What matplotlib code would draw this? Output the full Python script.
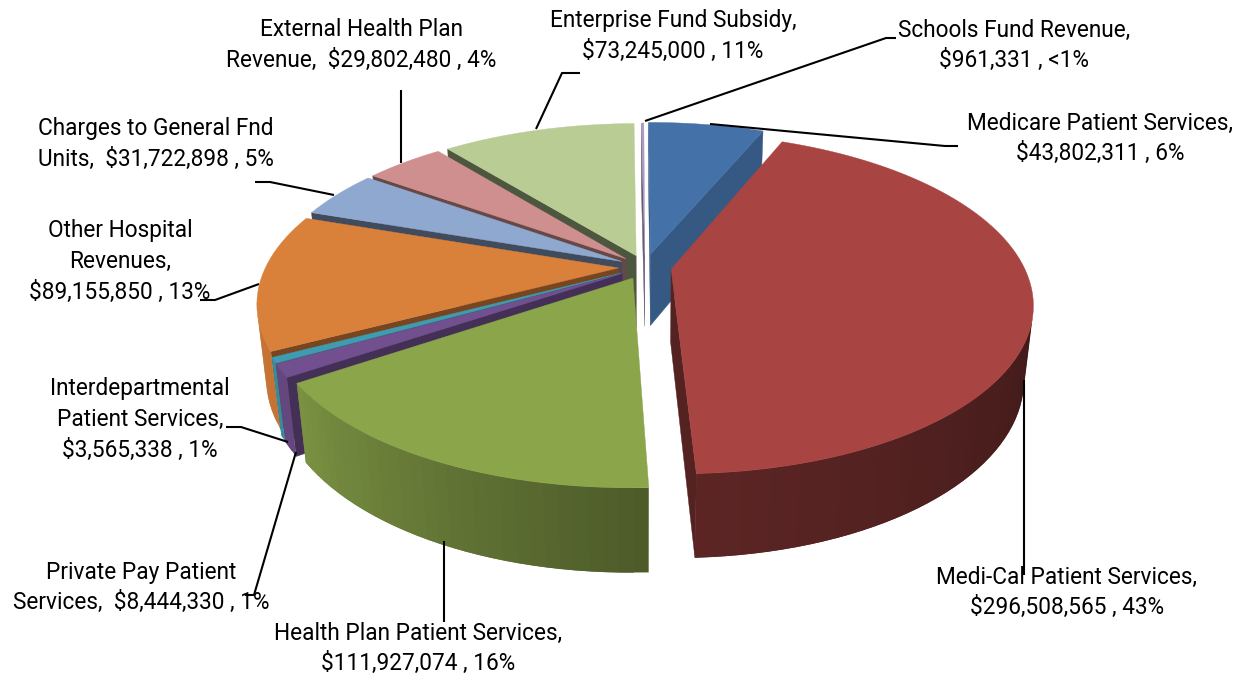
import numpy as np
import matplotlib
matplotlib.use("Agg")
import matplotlib.pyplot as plt

# Revenue sources, clockwise from twelve o'clock
categories = ["Schools Fund Revenue", "Medicare Patient Services", "Medi-Cal Patient Services",
              "Health Plan Patient Services", "Private Pay Patient Services",
              "Interdepartmental Patient Services", "Other Hospital Revenues",
              "Charges to General Fnd Units", "External Health Plan Revenue",
              "Enterprise Fund Subsidy"]
values = [961331, 43802311, 296508565, 111927074, 8444330,
          3565338, 89155850, 31722898, 29802480, 73245000]
percents = ["<1%", "6%", "43%", "16%", "1%", "1%", "13%", "5%", "4%", "11%"]
colors = ["#A99CC0", "#4472A8", "#A84442", "#8BA54B", "#72508F",
          "#3F9BB0", "#D9803A", "#8FA8D0", "#CF8F8E", "#B8CC94"]
cut_shade = [0.6, 0.78, 0.5, 0.5, 0.6, 0.6, 0.55, 0.45, 0.5, 0.42]
explode = [0.075, 0.082, 0.075, 0.075, 0.075, 0.075, 0.075, 0.075, 0.075, 0.075]

# Text lines of each label; "{}" is filled with "$value , percent"
label_lines = [
    ["Schools Fund Revenue,", "{}"],
    ["Medicare Patient Services,", "{}"],
    ["Medi-Cal Patient Services,", "{}"],
    ["Health Plan Patient Services,", "{}"],
    ["Private Pay Patient", "Services,  {}"],
    ["Interdepartmental", "Patient Services,", "{}"],
    ["Other Hospital", "Revenues,", "{}"],
    ["Charges to General Fnd", "Units,  {}"],
    ["External Health Plan", "Revenue,  {}"],
    ["Enterprise Fund Subsidy,", "{}"],
]
label_centers = [(1014, 30), (1100, 123), (1067, 577), (418, 633), (141, 572),
                 (140, 389), (120, 231), (156, 129), (361, 30), (673, 21)]
LINE_PITCH = 30.5
FONT = "Roboto"
FONT_SIZE = 16.3

leaders = [
    [(645, 121), (886, 38), (896, 38)],
    [(710, 124), (945, 146), (958, 146)],
    [(1024, 380), (1024, 575)],
    [(444, 541), (444, 622)],
    [(296, 452), (254, 595), (245, 595)],
    [(288, 442), (241, 427), (226, 427)],
    [(259, 284), (215, 300), (200, 300)],
    [(334, 195), (270, 182), (255, 182)],
    [(401, 163), (401, 90)],
    [(536, 129), (562, 73), (580, 73)],
]

# Pie geometry and camera
CENTER_X, CENTER_Y = 645, 267
START_ANGLE = -0.7
THICKNESS = 0.23
ELEV = np.arcsin(0.452)
CAM_DIST = 4.455
FOCAL_X = 1572.0
FOCAL_Y = 1604.0
CAM_Y, CAM_Z = CAM_DIST * np.cos(ELEV), CAM_DIST * np.sin(ELEV)


def project(x, y, z):
    """Perspective projection of pie coordinates (y toward viewer, z up) to pixels."""
    x, y, z = map(np.asarray, (x, y, z))
    depth = CAM_DIST - (y * np.cos(ELEV) + z * np.sin(ELEV))
    up = -y * np.sin(ELEV) + z * np.cos(ELEV)
    return CENTER_X + FOCAL_X * x / depth, CENTER_Y - FOCAL_Y * up / depth


def faces_camera(px, py, nx, ny):
    return nx * (0 - px) + ny * (CAM_Y - py) > 0


def wall_shade(theta):
    return np.interp(theta, [0, 100, 178, 236, 265, 360], [0.3, 0.38, 0.55, 0.88, 0.95, 0.95])


def shaded(color, factor):
    return tuple(np.clip(np.array(matplotlib.colors.to_rgb(color)) * factor, 0, 1))


fig = plt.figure(figsize=(12.41, 6.77), dpi=100)
ax = fig.add_axes([0, 0, 1, 1])
ax.set_xlim(0, 1241)
ax.set_ylim(677, 0)
ax.axis("off")

edges = START_ANGLE + np.concatenate([[0], np.cumsum(values)]) / np.sum(values) * 360.0
paint_order = [0, 1, 9, 8, 7, 6, 5, 4, 3, 2]
for z, i in enumerate(paint_order):
    start, end = edges[i], edges[i + 1]
    mid = np.radians((start + end) / 2)
    ox, oy = explode[i] * np.sin(mid), -explode[i] * np.cos(mid)
    thetas = np.linspace(start, end, max(3, int((end - start) / 2.0) + 2))
    rad = np.radians(thetas)
    rim_x, rim_y = ox + np.sin(rad), oy - np.cos(rad)
    base = 2 + z * 0.1

    # Radial cut faces that turn toward the camera
    for ang, sign in ((rad[0], -1), (rad[-1], 1)):
        nx, ny = sign * np.cos(ang), sign * np.sin(ang)
        if faces_camera(ox, oy, nx, ny):
            ex, ey = ox + np.sin(ang), oy - np.cos(ang)
            sx, sy = project([ox, ex, ex, ox], [oy, ey, ey, oy], [0, 0, -THICKNESS, -THICKNESS])
            ax.fill(sx, sy, color=shaded(colors[i], cut_shade[i]), lw=0.3, zorder=base)

    # Outer wall as overlapping shaded strips, drawn only where it is visible
    for k in range(len(thetas) - 1):
        th = np.radians((thetas[k] + thetas[k + 1]) / 2)
        if not faces_camera(ox + np.sin(th), oy - np.cos(th), np.sin(th), -np.cos(th)):
            continue
        k2 = min(k + 2, len(thetas) - 1)
        qx = [rim_x[k], rim_x[k2], rim_x[k2], rim_x[k]]
        qy = [rim_y[k], rim_y[k2], rim_y[k2], rim_y[k]]
        sx, sy = project(qx, qy, [0, 0, -THICKNESS, -THICKNESS])
        c = shaded(colors[i], wall_shade((thetas[k] + thetas[k + 1]) / 2))
        ax.fill(sx, sy, color=c, lw=0, zorder=base + 0.01 + k * 1e-4)

    # Top face
    sx, sy = project(np.r_[ox, rim_x], np.r_[oy, rim_y], np.zeros(len(rim_x) + 1))
    ax.fill(sx, sy, color=colors[i], lw=0.3, zorder=base + 0.05)

for path in leaders:
    xs, ys = zip(*path)
    ax.plot(xs, ys, color="black", lw=1.5, solid_capstyle="butt", zorder=5)

for lines, (cx, cy), value, pct in zip(label_lines, label_centers, values, percents):
    amount = f"${value:,} , {pct}"
    for n, line in enumerate(lines):
        ax.text(cx, cy + n * LINE_PITCH, line.format(amount), ha="center", va="center",
                family=FONT, fontsize=FONT_SIZE, color="black", zorder=6)

fig.savefig("out.png", dpi=100)
